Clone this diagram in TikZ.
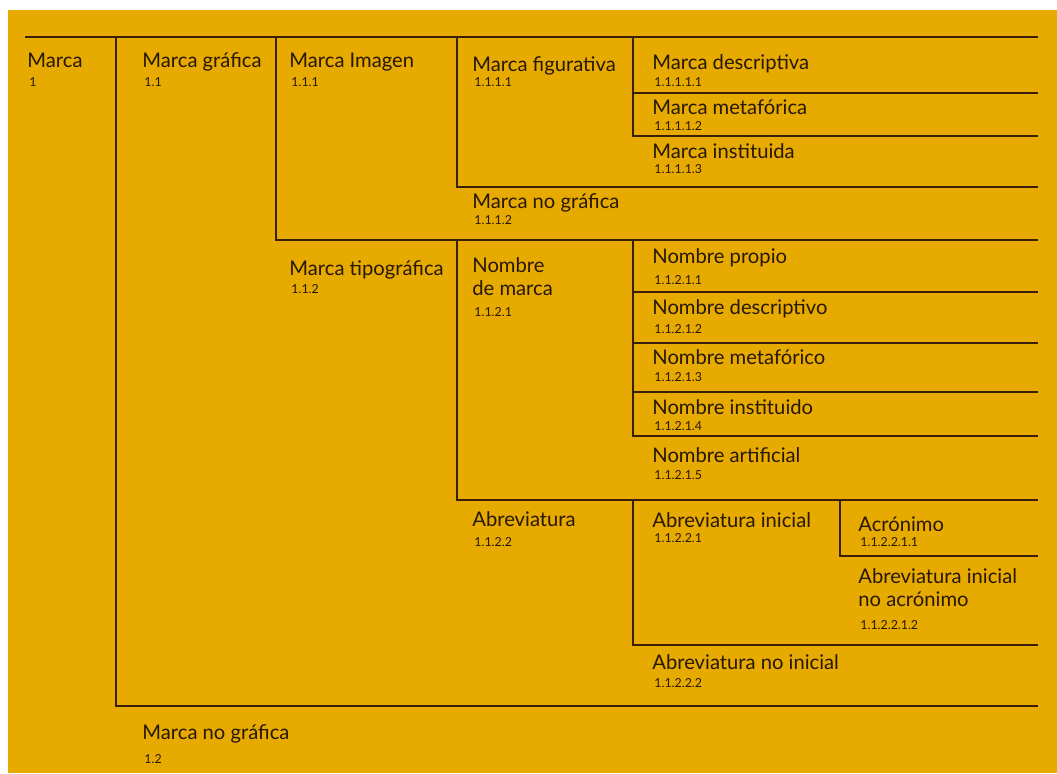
\documentclass[tikz,border=0pt]{standalone}
\usepackage{fontspec}
\setmainfont{Lato}
\usetikzlibrary{positioning}
\definecolor{fondo}{RGB}{230,170,0}
\definecolor{linea}{RGB}{58,32,8}
\definecolor{texto}{RGB}{40,24,6}

\begin{document}
\begin{tikzpicture}[x=0.5pt,y=-0.5pt,
  titulo/.style={anchor=base west,inner sep=0pt,text=texto,font=\fontsize{10.1}{12}\selectfont},
  numero/.style={anchor=base west,inner sep=0pt,text=texto,font=\fontsize{6.2}{7}\selectfont},
  raya/.style={draw=linea,line width=1.2pt}]
\useasboundingbox (0,0) rectangle (1057,773);
\fill[white] (0,0) rectangle (1057,773);
\fill[fondo] (8,10) rectangle (1057,773);

% columnas
\coordinate (c0) at (25,37);
\coordinate (c1) at (116,37);
\coordinate (c2) at (276,37);
\coordinate (c3) at (457,37);
\coordinate (c4) at (633,37);
\coordinate (cr) at (1038,37);

\draw[raya] (c0) -- (cr);
\draw[raya] (c1) -- (116,706) -- (1038,706);
\draw[raya] (c2) -- (276,240) -- (1038,240);
\draw[raya] (c3) -- (457,187) -- (1038,187);
\draw[raya] (c4) -- (633,136) -- (1038,136);
\draw[raya] (633,93) -- (1038,93);
\draw[raya] (457,240) -- (457,500) -- (1038,500);
\draw[raya] (633,240) -- (633,436) -- (1038,436);
\foreach \y in {292,343,392}
  \draw[raya] (633,\y) -- (1038,\y);
\draw[raya] (633,500) -- (633,645) -- (1038,645);
\draw[raya] (840,500) -- (840,556) -- (1038,556);

% rama 1.1.1
\node[titulo] (marca) at (27,67) {Marca};
\node[numero] (marca-n) at (29,86) {1};
\node[titulo] (grafica) at (142,67) {Marca gráfica};
\node[numero] (grafica-n) at (144,86) {1.1};
\node[titulo] (imagen) at (289,67) {Marca Imagen};
\node[numero] (imagen-n) at (291,86) {1.1.1};
\node[titulo] (figurativa) at (472,71) {Marca figurativa};
\node[numero] (figurativa-n) at (474,86) {1.1.1.1};
\node[titulo] (descriptiva) at (652,69) {Marca descriptiva};
\node[numero] (descriptiva-n) at (654,86) {1.1.1.1.1};
\node[titulo] (metaforica) at (652,114) {Marca metafórica};
\node[numero] (metaforica-n) at (654,130) {1.1.1.1.2};
\node[titulo] (instituida) at (652,158) {Marca instituida};
\node[numero] (instituida-n) at (654,173) {1.1.1.1.3};
\node[titulo] (nografica2) at (472,208) {Marca no gráfica};
\node[numero] (nografica2-n) at (474,224) {1.1.1.2};

% rama 1.1.2
\node[titulo] (tipografica) at (289,275) {Marca tipográfica};
\node[numero] (tipografica-n) at (291,293) {1.1.2};
\node[titulo] (nombre) at (472,272) {Nombre};
\node[titulo] (nombre2) at (472,295) {de marca};
\node[numero] (nombre-n) at (474,316) {1.1.2.1};
\node[titulo] (propio) at (652,263) {Nombre propio};
\node[numero] (propio-n) at (654,284) {1.1.2.1.1};
\node[titulo] (ndescriptivo) at (652,314) {Nombre descriptivo};
\node[numero] (ndescriptivo-n) at (654,333) {1.1.2.1.2};
\node[titulo] (nmetaforico) at (652,364) {Nombre metafórico};
\node[numero] (nmetaforico-n) at (654,381) {1.1.2.1.3};
\node[titulo] (ninstituido) at (652,414) {Nombre instituido};
\node[numero] (ninstituido-n) at (654,430) {1.1.2.1.4};
\node[titulo] (artificial) at (652,462) {Nombre artificial};
\node[numero] (artificial-n) at (654,479) {1.1.2.1.5};

% abreviaturas
\node[titulo] (abrev) at (472,526) {Abreviatura};
\node[numero] (abrev-n) at (474,546) {1.1.2.2};
\node[titulo] (inicial) at (652,527) {Abreviatura inicial};
\node[numero] (inicial-n) at (654,542) {1.1.2.2.1};
\node[titulo] (acronimo) at (858,531) {Acrónimo};
\node[numero] (acronimo-n) at (860,546) {1.1.2.2.1.1};
\node[titulo] (noacro) at (858,583) {Abreviatura inicial};
\node[titulo] (noacro2) at (858,606) {no acrónimo};
\node[numero] (noacro-n) at (860,629) {1.1.2.2.1.2};
\node[titulo] (noinicial) at (652,669) {Abreviatura no inicial};
\node[numero] (noinicial-n) at (654,687) {1.1.2.2.2};

\node[titulo] (nografica) at (142,739) {Marca no gráfica};
\node[numero] (nografica-n) at (144,763) {1.2};
\end{tikzpicture}
\end{document}
